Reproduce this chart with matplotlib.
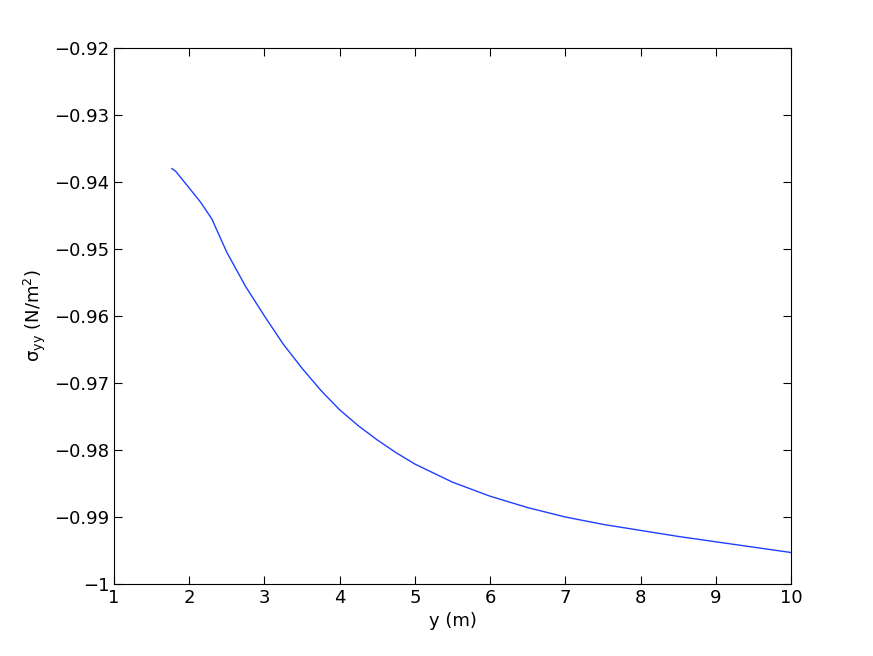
import matplotlib
matplotlib.use('agg')
import matplotlib.pyplot as plt

# values
y_m = [1.77, 1.82, 2.0, 2.15, 2.3, 2.5, 2.75, 3.0, 3.25, 3.5, 3.75, 4.0, 4.25, 4.5, 4.75, 5.0, 5.5, 6.0, 6.5, 7.0, 7.5, 8.0, 8.5, 9.0, 9.5, 10.0]
sigma_yy = [-0.9380, -0.9384, -0.9409, -0.9430, -0.9455, -0.9505, -0.9556, -0.9600, -0.9642, -0.9678, -0.9711, -0.9740, -0.9764, -0.9785, -0.9804, -0.9821, -0.9848, -0.9869, -0.9886, -0.9900, -0.9911, -0.9920, -0.9929, -0.9937, -0.9945, -0.9953]

fig = plt.figure(figsize=(8.73, 6.56), dpi=100)
ax = fig.add_axes([114/873, 1-584/656, (791-114)/873, (584-48)/656])
ax.plot(y_m, sigma_yy, color='#1f3fff', linewidth=1)
ax.set_xlim(1, 10)
ax.set_ylim(-1, -0.92)
ax.set_xticks(range(1, 11))
ax.set_yticks([-1, -0.99, -0.98, -0.97, -0.96, -0.95, -0.94, -0.93, -0.92])
ax.set_yticklabels(['\u22121', '\u22120.99', '\u22120.98', '\u22120.97', '\u22120.96', '\u22120.95', '\u22120.94', '\u22120.93', '\u22120.92'])
ax.tick_params(direction='in', labelsize=13, top=True, right=True, length=6)
ax.set_xlabel('y (m)', fontsize=13)
ax.set_ylabel('\u03c3$_{\\mathrm{yy}}$ (N/m$^{\\mathrm{2}}$)', fontsize=13)
fig.savefig('out.png')
